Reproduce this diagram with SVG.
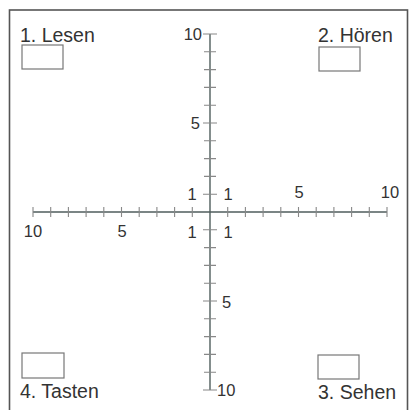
<svg xmlns="http://www.w3.org/2000/svg" width="409" height="410" viewBox="0 0 409 410">
<style>
.t{font-family:"Liberation Sans",Arial,sans-serif;fill:#333;}
.lbl{font-size:19.5px;}
.num{font-size:16.5px;}
.box{fill:#fff;stroke:#777;stroke-width:1.2;}
.ax{stroke:#4f5d5c;stroke-width:1.4;fill:none;}
.tk{stroke:#888;stroke-width:1.1;fill:none;}
</style>
<rect x="0" y="0" width="409" height="410" fill="#fff"/>
<rect x="9.5" y="10" width="398" height="405" fill="none" stroke="#555" stroke-width="1.6"/>
<g id="axes">
<line class="ax" x1="33" y1="212" x2="387" y2="212"/>
<line class="ax" x1="210" y1="34" x2="210" y2="390"/>
<path class="tk" d="M33,207V217M50.7,207V217M68.4,207V217M86.1,207V217M103.8,207V217M121.5,207V217M139.2,207V217M156.9,207V217M174.6,207V217M192.3,207V217M227.7,207V217M245.4,207V217M263.1,207V217M280.8,207V217M298.5,207V217M316.2,207V217M333.9,207V217M351.6,207V217M369.3,207V217M387,207V217"/>
<path class="tk" d="M203,34H217M204,51.8H216M204,69.6H216M204,87.4H216M204,105.2H216M203,123H217M204,140.8H216M204,158.6H216M204,176.4H216M203,194.2H217M203,229.8H217M204,247.6H216M204,265.4H216M204,283.2H216M203,301H217M204,318.8H216M204,336.6H216M204,354.4H216M204,372.2H216M203,390H217"/>
<g class="t num">
<text x="202" y="40" text-anchor="end">10</text>
<text x="200" y="129" text-anchor="end">5</text>
<text x="192" y="200" text-anchor="middle">1</text>
<text x="228" y="200" text-anchor="middle">1</text>
<text x="299" y="198" text-anchor="middle">5</text>
<text x="390" y="198" text-anchor="middle">10</text>
<text x="33" y="237" text-anchor="middle">10</text>
<text x="122" y="237" text-anchor="middle">5</text>
<text x="192" y="238" text-anchor="middle">1</text>
<text x="228" y="238" text-anchor="middle">1</text>
<text x="222" y="308" text-anchor="start">5</text>
<text x="217" y="396" text-anchor="start">10</text>
</g>
</g>
<g id="lesen">
<rect class="box" x="22" y="45" width="41" height="24"/>
<text class="t lbl" x="20" y="42">1. Lesen</text>
</g>
<g id="hoeren">
<rect class="box" x="319" y="47" width="41" height="24"/>
<text class="t lbl" x="318" y="42">2. Hören</text>
</g>
<g id="sehen">
<rect class="box" x="318" y="355" width="41" height="24"/>
<text class="t lbl" x="318" y="399">3. Sehen</text>
</g>
<g id="tasten">
<rect class="box" x="22" y="353" width="42" height="25"/>
<text class="t lbl" x="20" y="398">4. Tasten</text>
</g>
</svg>
